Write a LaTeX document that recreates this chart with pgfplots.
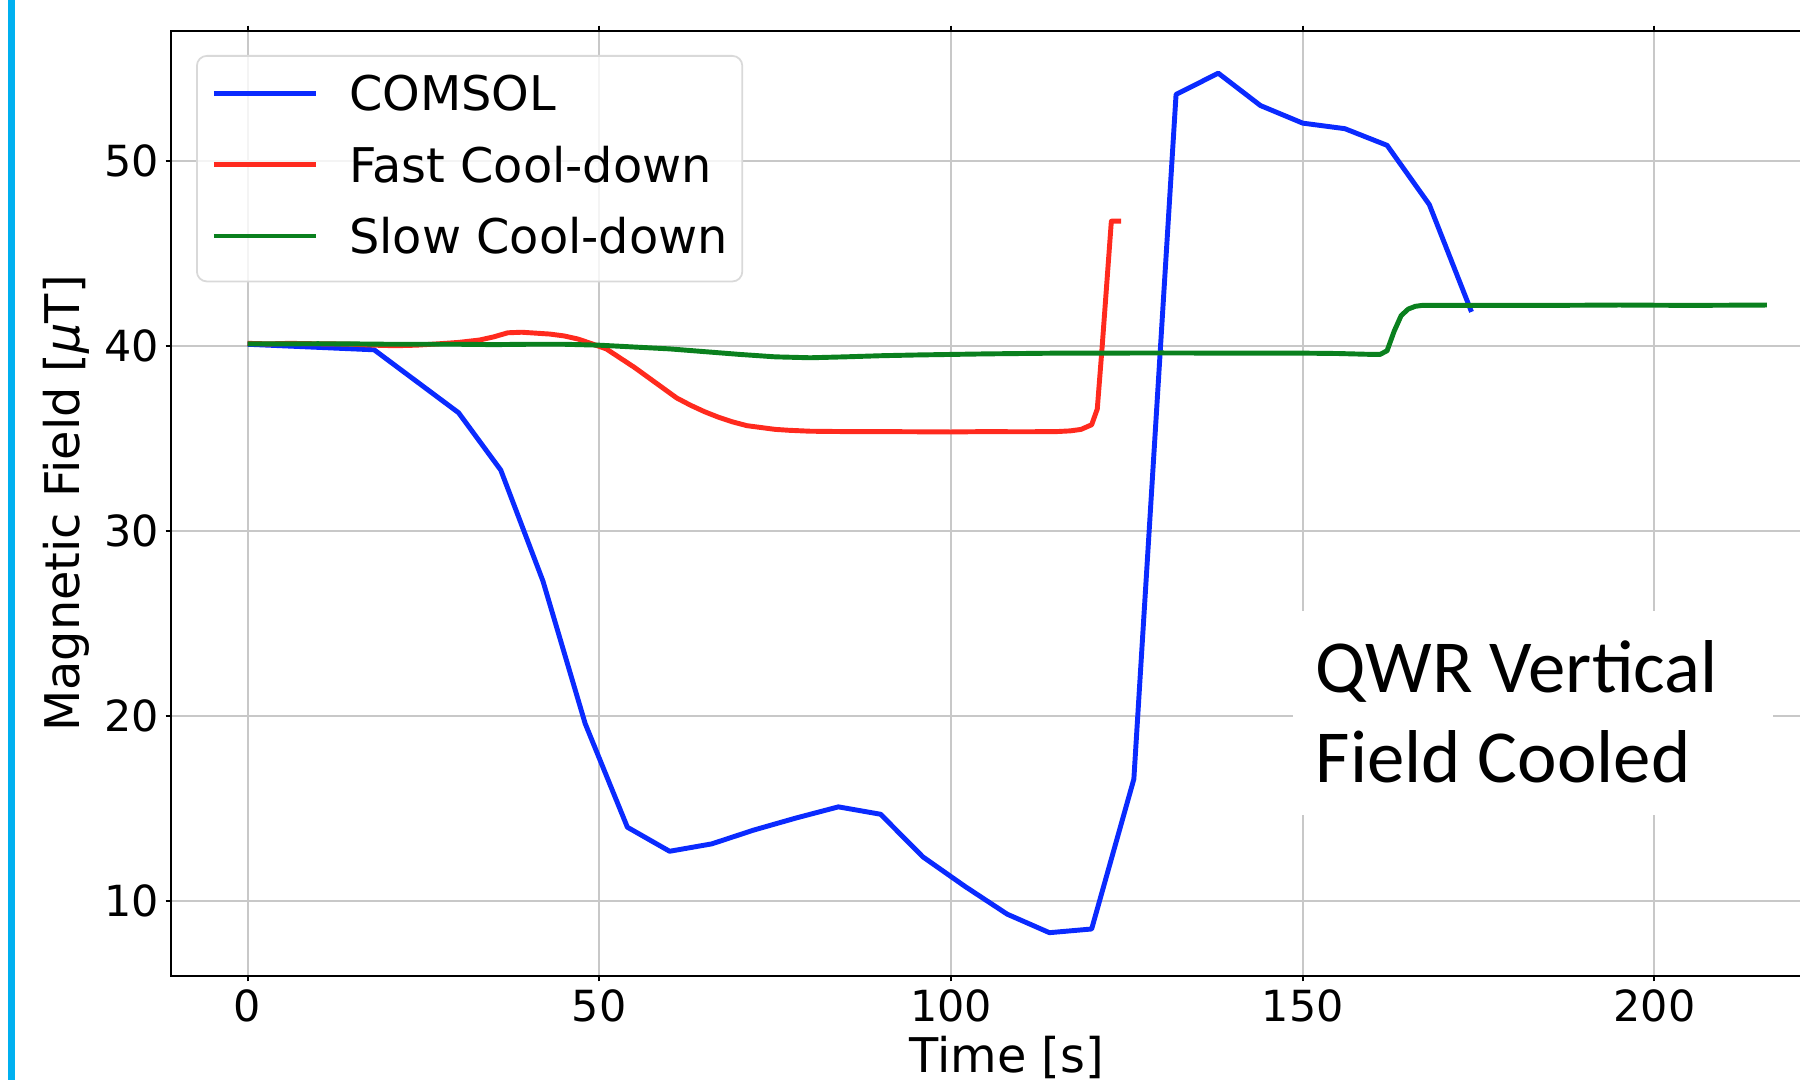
\documentclass[border=0pt]{standalone}
\usepackage{fontspec}
\setmainfont{DejaVu Sans}
\newfontfamily\carlito{Carlito}
\usepackage{pgfplots}
\pgfplotsset{compat=1.18}
\definecolor{SideBar}{HTML}{00B0F0}
\definecolor{CBlue}{HTML}{0A2AFF}
\definecolor{CRed}{HTML}{FF2A1E}
\definecolor{CGreen}{HTML}{0A801E}
\definecolor{GridGray}{HTML}{C8C8C8}
\definecolor{LegEdge}{HTML}{D9D9D9}

\begin{document}
\begin{tikzpicture}
\path[use as bounding box] (0,0) rectangle (18,10.8);
\fill[SideBar] (0.08,0) rectangle (0.155,10.8);
\begin{axis}[
  at={(1.71cm,1.04cm)}, anchor=south west,
  scale only axis, width=16.29cm, height=9.45cm,
  xmin=-10.88, xmax=220.7, ymin=5.96, ymax=57.03,
  xtick={0,50,...,200}, ytick={10,20,...,50},
  axis line style={draw=none},
  tick align=outside, major tick length=0.53mm,
  tick style={line width=0.57pt, color=black},
  grid=major, grid style={GridGray, line width=0.55pt},
  /pgf/number format/assume math mode=true,
  tick label style={font=\fontsize{12.2}{14}\selectfont, inner sep=0pt},
  xticklabel style={yshift=-0.75mm},
  yticklabel style={xshift=-0.6mm},
  xlabel={Time [s]},
  ylabel={Magnetic Field [{\itshape μ}T]},
  label style={font=\fontsize{13.6}{16}\selectfont, inner sep=0pt},
  xlabel style={at={(axis description cs:0.513,-0.1026)}, anchor=base},
  ylabel style={at={(axis description cs:-0.0559,0.5)}, anchor=base},
  legend style={at={(axis description cs:0.01535,0.9746)}, anchor=north west,
    draw=LegEdge, line width=0.5pt, rounded corners=1mm,
    fill=white, fill opacity=0.8, text opacity=1, draw opacity=1,
    font=\fontsize{13.6}{16}\selectfont,
    inner xsep=1.45mm, inner ysep=2mm, row sep=2.83mm, column sep=3.1mm,
    nodes={inner sep=0pt, text height=3.5mm, text depth=0.8mm, anchor=base west}},
  legend cell align=left,
  legend image code/.code={\draw[#1, line width=1.4pt, sharp corners] (0mm,1.75mm) -- (10.2mm,1.75mm);},
  every axis plot/.append style={line width=1.4pt, line join=round, no markers},
]
\addplot[CBlue] coordinates {
(0,40.1) (6,40.0) (12,39.9) (18,39.8) (24,38.1) (30,36.4) (36,33.3) (42,27.3)
(48,19.6) (54,14.0) (60,12.7) (66,13.1) (72,13.85) (78,14.5) (84,15.1) (90,14.7)
(96,12.4) (102,10.8) (108,9.3) (114,8.3) (120,8.5) (126,16.6) (132,53.6) (138,54.75)
(144,53.0) (150,52.05) (156,51.75) (162,50.85) (168,47.65) (174,41.85)};
\addlegendentry{COMSOL}

\addplot[CRed] coordinates {
(0,40.15) (3,40.12) (6,40.15) (9,40.13) (12,40.12) (15,40.1) (18,40.05) (21,40.02)
(24,40.05) (27,40.12) (30,40.2) (33,40.33) (35,40.5) (37,40.72) (39,40.75) (41,40.7)
(43,40.65) (45,40.55) (47,40.38) (49,40.12) (51,39.85) (53,39.35) (55,38.85) (57,38.3)
(59,37.75) (61,37.2) (63,36.8) (65,36.45) (67,36.15) (69,35.9) (71,35.7) (73,35.6)
(75,35.5) (77,35.45) (80,35.4) (85,35.38) (90,35.38) (95,35.37) (100,35.36) (105,35.38)
(110,35.37) (115,35.38) (117,35.42) (118.5,35.5) (120,35.75) (120.8,36.6) (121.5,40.0)
(122.8,46.75) (124.2,46.75)};
\addlegendentry{Fast Cool-down}

\addplot[CGreen] coordinates {
(0,40.12) (5,40.12) (10,40.13) (15,40.12) (20,40.1) (25,40.1) (30,40.1) (35,40.08)
(40,40.1) (45,40.1) (50,40.05) (55,39.95) (60,39.85) (65,39.7) (70,39.55) (75,39.42)
(80,39.37) (85,39.42) (90,39.48) (95,39.52) (100,39.55) (105,39.58) (110,39.6) (115,39.62)
(120,39.62) (130,39.63) (140,39.62) (150,39.62) (155,39.6) (160,39.55) (161,39.55)
(162,39.75) (163,40.8) (164,41.65) (165,42.0) (166,42.15) (167,42.2) (175,42.2)
(185,42.2) (195,42.22) (205,42.2) (216,42.22)};
\addlegendentry{Slow Cool-down}
\end{axis}
\draw[line width=0.57pt, line join=miter] (18,10.49) -- (1.71,10.49) -- (1.71,1.04) -- (18,1.04);
\fill[white] (12.93,2.65) rectangle (17.73,4.69);
\node[anchor=base west, inner sep=0pt, font=\carlito\fontsize{21.3}{25.6}\selectfont] at (13.15,3.87) {QWR Vertical};
\node[anchor=base west, inner sep=0pt, font=\carlito\fontsize{21.3}{25.6}\selectfont] at (13.15,2.97) {Field Cooled};
\end{tikzpicture}
\end{document}
